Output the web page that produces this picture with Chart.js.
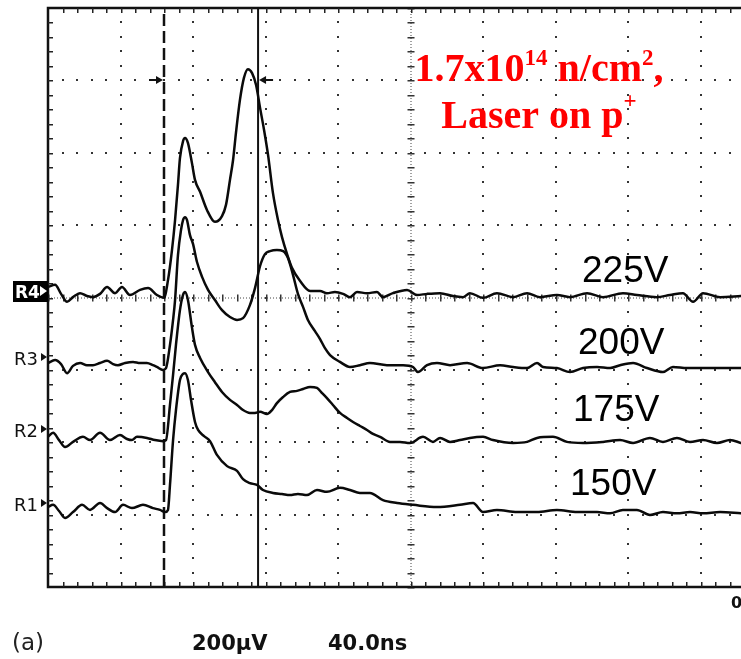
<!DOCTYPE html>
<html><head><meta charset="utf-8">
<script src="https://cdn.jsdelivr.net/npm/chart.js@4/dist/chart.umd.min.js"></script>
<style>html,body{margin:0;padding:0;background:#fff;overflow:hidden}canvas{display:block}</style>
</head><body>
<canvas id="c" width="741" height="659"></canvas>
<script>
// Time in ns from the left edge of the graticule (40 ns/div); signal in µV relative to screen centre (200 µV/div)
const seriesLabels = ['225V', '200V', '175V', '150V'];
const refNames = ['R4', 'R3', 'R2', 'R1'];
const refLevels = [18, -164, -364, -568];
const gridTimes = [40, 80, 120, 160, 200, 240, 280, 320, 360];
const gridLevels = [-600, -400, -200, 0, 200, 400, 600];
const cursorTimes = [64.0, 115.9];
const cursorArrowLevel = 600;

const t225 = [0,3.9,7.2,10.5,13.8,17.7,21.5,24.8,28.7,32.6,37.0,40.8,45.2,50.8,55.2,60.1,64.0,66.2,68.4,70.1,71.7,72.8,74.5,75.6,77.2,79.4,81.1,83.9,87.7,92.1,96.0,98.2,100.4,102.1,103.7,105.9,108.1,110.3,112.6,114.8,117.0,119.2,121.4,124.1,126.9,129.1,131.9,134.6,139.0,144.6,150.1,153.9,158.3,162.8,166.6,170.5,176.0,181.5,184.8,190.3,198.1,203.6,209.1,216.3,223.4,229.0,232.8,240.0,247.7,256.6,264.3,271.4,280.8,288.0,297.4,306.2,317.2,324.9,335.9,343.2,350.3,355.9,361.4,370.8,382.3];
const v225 = [29,35,10,-12,1,12,4,1,10,29,12,29,7,21,26,7,-1,48,131,214,311,385,432,441,427,372,325,292,242,209,225,256,325,380,455,546,607,631,620,587,524,463,394,289,214,167,120,82,46,18,18,12,15,10,1,15,12,15,1,12,21,7,10,12,4,1,12,-1,12,1,12,1,7,1,12,1,12,7,1,7,12,-12,12,1,4];

const t200 = [0,3.9,7.2,10.5,13.8,17.7,21.5,24.8,28.7,32.6,35.9,38.6,42.5,46.9,50.8,54.6,57.9,60.1,63.4,65.1,67.3,69.0,70.1,71.7,73.4,74.5,75.6,76.7,78.3,80.0,82.2,85.0,88.3,92.1,96.0,100.4,104.3,107.6,111.4,114.2,117.0,119.7,122.5,126.3,129.7,132.4,135.2,137.9,140.7,143.4,147.3,150.1,152.8,155.6,161.1,166.6,172.1,177.6,187.0,195.9,201.4,204.1,209.1,214.6,221.8,231.2,240.0,249.4,256.6,264.3,269.8,273.1,280.8,288.0,295.2,302.9,310.1,315.6,322.8,330.5,339.3,344.8,352.6,361.4,370.8,382.3];
const v200 = [-181,-173,-184,-209,-189,-181,-187,-187,-181,-175,-184,-187,-181,-178,-181,-181,-187,-192,-200,-195,-131,-62,-7,117,187,214,222,214,173,148,98,57,21,-7,-35,-54,-62,-57,-21,26,87,120,128,131,128,109,62,10,-26,-62,-93,-115,-140,-159,-178,-192,-187,-181,-187,-187,-192,-206,-187,-181,-187,-181,-195,-187,-192,-195,-181,-192,-195,-206,-195,-192,-195,-187,-181,-195,-206,-192,-195,-195,-195,-195];

const t175 = [0,2.8,6.1,9.4,13.8,19.3,23.2,28.7,34.2,39.7,43.6,46.3,49.1,54.6,59.0,63.4,65.1,67.3,69.0,70.6,72.8,74.5,75.6,77.2,79.4,81.1,83.9,88.3,92.1,96.0,100.4,104.3,107.6,111.4,114.2,117.0,120.8,123.6,126.3,129.7,133.5,137.4,140.7,144.6,148.4,151.2,153.9,157.2,161.1,165.0,168.3,172.1,176.0,179.3,183.2,188.7,194.2,199.7,206.9,212.4,216.3,221.8,227.3,232.8,240.0,245.5,256.6,264.3,269.8,278.6,286.3,295.2,306.2,315.6,322.8,332.1,339.3,347.0,354.2,361.4,369.1,376.3,382.3];
const v175 = [-385,-374,-394,-413,-399,-385,-394,-374,-394,-380,-391,-394,-385,-388,-394,-397,-394,-297,-214,-131,-35,7,15,-7,-82,-131,-167,-206,-234,-261,-283,-297,-311,-319,-319,-316,-322,-311,-292,-275,-261,-258,-253,-247,-250,-264,-278,-297,-319,-333,-344,-355,-366,-377,-385,-399,-399,-402,-385,-399,-388,-399,-394,-388,-385,-394,-402,-399,-388,-385,-399,-402,-399,-394,-402,-388,-399,-388,-399,-394,-402,-394,-402];

const t150 = [0,2.8,6.1,9.4,13.8,18.8,23.2,28.7,32.6,37.0,41.4,46.3,52.4,57.9,61.8,64.6,66.2,67.3,69.0,70.6,72.8,74.5,75.6,77.2,78.9,81.1,82.8,86.1,89.4,93.2,98.8,104.3,107.6,111.4,115.3,118.6,124.1,129.1,133.5,137.9,142.9,148.4,153.9,161.1,166.6,172.1,177.6,184.8,192.6,201.4,214.6,227.3,234.5,240.0,247.7,258.8,269.8,280.8,291.9,302.9,310.1,317.2,324.9,332.1,339.3,347.0,354.2,361.4,370.8,382.3];
const v150 = [-579,-573,-590,-609,-593,-573,-587,-568,-582,-593,-573,-582,-573,-582,-587,-593,-587,-518,-394,-311,-228,-211,-209,-228,-283,-344,-366,-383,-397,-435,-466,-479,-502,-513,-518,-532,-540,-543,-546,-543,-546,-532,-537,-526,-532,-540,-540,-560,-568,-573,-579,-573,-568,-593,-587,-593,-593,-587,-593,-593,-596,-587,-587,-601,-593,-596,-593,-596,-593,-596];

const pts = (t, v) => t.map((x, i) => ({ x, y: v[i] }));
const traceStyle = { borderColor: '#0a0a0a', borderWidth: 2.5, pointRadius: 0, fill: false, cubicInterpolationMode: 'monotone', borderJoinStyle: 'round', borderCapStyle: 'round' };
const cursorStyle = { borderColor: '#111', pointRadius: 0, fill: false, tension: 0 };

const graticule = {
  id: 'graticule',
  beforeDatasetsDraw(chart) {
    const { ctx, chartArea: a, scales: { x, y } } = chart;
    ctx.save();
    ctx.fillStyle = '#333';
    const dot = (px, py) => ctx.fillRect(Math.round(px) - 1, Math.round(py) - 1, 2, 2);
    for (const t of gridTimes) {
      if (t === 200) continue;
      const px = x.getPixelForValue(t);
      for (let v = -800; v <= 800; v += 40) dot(px, y.getPixelForValue(v));
    }
    for (const v of gridLevels) {
      if (v === 0) continue;
      const py = y.getPixelForValue(v);
      for (let t = 0; t <= 400; t += 8) dot(x.getPixelForValue(t), py);
    }
    // centre lines
    const cx = x.getPixelForValue(200), cy = y.getPixelForValue(0);
    ctx.strokeStyle = '#444'; ctx.lineWidth = 1; ctx.setLineDash([1, 2]);
    ctx.beginPath(); ctx.moveTo(cx + 0.5, a.top); ctx.lineTo(cx + 0.5, a.bottom);
    ctx.moveTo(a.left, cy + 0.5); ctx.lineTo(a.right, cy + 0.5); ctx.stroke();
    ctx.setLineDash([]);
    for (let v = -800; v <= 800; v += 40) ctx.fillRect(cx - 3, Math.round(y.getPixelForValue(v)), 7, 1.5);
    for (let t = 0; t <= 400; t += 8) ctx.fillRect(Math.round(x.getPixelForValue(t)), cy - 3, 1.5, 7);
    // border with minor ticks
    ctx.strokeStyle = '#111'; ctx.lineWidth = 2.5;
    ctx.beginPath();
    ctx.moveTo(a.right + 5, a.top); ctx.lineTo(a.left, a.top); ctx.lineTo(a.left, a.bottom); ctx.lineTo(a.right + 5, a.bottom);
    ctx.stroke();
    ctx.fillStyle = '#222';
    for (let t = 8; t <= 400; t += 8) {
      const px = Math.round(x.getPixelForValue(t));
      ctx.fillRect(px, a.top, 1.5, 5);
      ctx.fillRect(px, a.bottom - 5, 1.5, 5);
    }
    for (let v = -760; v <= 760; v += 40) ctx.fillRect(a.left, Math.round(y.getPixelForValue(v)), 5, 1.5);
    ctx.restore();
  }
};

function drawRuns(ctx, runs, cx, baseY) {
  let w = 0;
  for (const r of runs) { ctx.font = r.font; w += ctx.measureText(r.t).width; }
  let xx = cx - w / 2;
  for (const r of runs) { ctx.font = r.font; ctx.fillText(r.t, xx, baseY + (r.dy || 0)); xx += ctx.measureText(r.t).width; }
}

const annotations = {
  id: 'annotations',
  afterDraw(chart) {
    const { ctx, scales: { x, y } } = chart;
    ctx.save();
    ctx.textBaseline = 'alphabetic';
    // cursor arrows
    ctx.fillStyle = '#111';
    const ay = Math.round(y.getPixelForValue(cursorArrowLevel));
    const c1 = x.getPixelForValue(cursorTimes[0]), c2 = x.getPixelForValue(cursorTimes[1]);
    ctx.fillRect(c1 - 15, ay - 1, 10, 2);
    ctx.beginPath(); ctx.moveTo(c1 - 1, ay); ctx.lineTo(c1 - 8, ay - 4); ctx.lineTo(c1 - 8, ay + 4); ctx.closePath(); ctx.fill();
    ctx.fillRect(c2 + 5, ay - 1, 10, 2);
    ctx.beginPath(); ctx.moveTo(c2 + 1, ay); ctx.lineTo(c2 + 8, ay - 4); ctx.lineTo(c2 + 8, ay + 4); ctx.closePath(); ctx.fill();

    // reference markers
    refNames.forEach((n, i) => {
      const py = Math.round(y.getPixelForValue(refLevels[i]));
      if (i === 0) {
        ctx.fillStyle = '#000';
        ctx.fillRect(13, py - 10, 35, 21);
        ctx.fillStyle = '#fff';
        ctx.font = 'bold 17px "DejaVu Sans"';
        ctx.fillText(n, 15, py + 7);
        ctx.beginPath(); ctx.moveTo(47, py); ctx.lineTo(40, py - 5); ctx.lineTo(40, py + 5); ctx.closePath(); ctx.fill();
      } else {
        ctx.fillStyle = '#111';
        ctx.font = '18px "DejaVu Sans"';
        ctx.fillText(n, 14, py + 8);
        ctx.beginPath(); ctx.moveTo(47, py); ctx.lineTo(41, py - 4); ctx.lineTo(41, py + 4); ctx.closePath(); ctx.fill();
      }
    });

    // voltage labels
    ctx.fillStyle = '#000';
    ctx.font = '37px "Liberation Sans"';
    ctx.fillText(seriesLabels[0], 582, 282);
    ctx.fillText(seriesLabels[1], 578, 354);
    ctx.fillText(seriesLabels[2], 573, 421);
    ctx.fillText(seriesLabels[3], 570, 495);

    // red annotation
    ctx.fillStyle = '#f00';
    const big = 'bold 40px "Liberation Serif"', sup = 'bold 23px "Liberation Serif"';
    drawRuns(ctx, [{ t: '1.7x10', font: big }, { t: '14', font: sup, dy: -16 }, { t: ' n/cm', font: big }, { t: '2', font: sup, dy: -16 }, { t: ',', font: big }], 539, 81);
    drawRuns(ctx, [{ t: 'Laser on p', font: big }, { t: '+', font: sup, dy: -20 }], 539, 128);

    // bottom readout
    ctx.fillStyle = '#222';
    ctx.font = '23px "DejaVu Sans"';
    ctx.fillText('(a)', 12, 650);
    ctx.fillStyle = '#111';
    ctx.font = 'bold 21px "DejaVu Sans"';
    ctx.fillText('200\u00b5V', 192, 650);
    ctx.fillText('40.0ns', 328, 650);
    ctx.font = 'bold 16px "DejaVu Sans"';
    ctx.fillText('0', 731, 608);
    ctx.restore();
  }
};

new Chart(document.getElementById('c').getContext('2d'), {
  type: 'line',
  data: {
    datasets: [
      { label: seriesLabels[0], data: pts(t225, v225), ...traceStyle },
      { label: seriesLabels[1], data: pts(t200, v200), ...traceStyle },
      { label: seriesLabels[2], data: pts(t175, v175), ...traceStyle },
      { label: seriesLabels[3], data: pts(t150, v150), ...traceStyle },
      { label: 'cursor 1', data: [{ x: cursorTimes[0], y: -800 }, { x: cursorTimes[0], y: 800 }], borderWidth: 2.5, borderDash: [12, 5], ...cursorStyle },
      { label: 'cursor 2', data: [{ x: cursorTimes[1], y: -800 }, { x: cursorTimes[1], y: 800 }], borderWidth: 2, ...cursorStyle }
    ]
  },
  options: {
    responsive: false,
    animation: false,
    devicePixelRatio: 1,
    layout: { padding: { left: 48, top: 8, right: 0, bottom: 72 } },
    plugins: { legend: { display: false }, tooltip: { enabled: false } },
    scales: {
      x: { type: 'linear', min: 0, max: 382.34, display: false },
      y: { type: 'linear', min: -800, max: 800, display: false }
    }
  },
  plugins: [graticule, annotations]
});
</script>
</body></html>
